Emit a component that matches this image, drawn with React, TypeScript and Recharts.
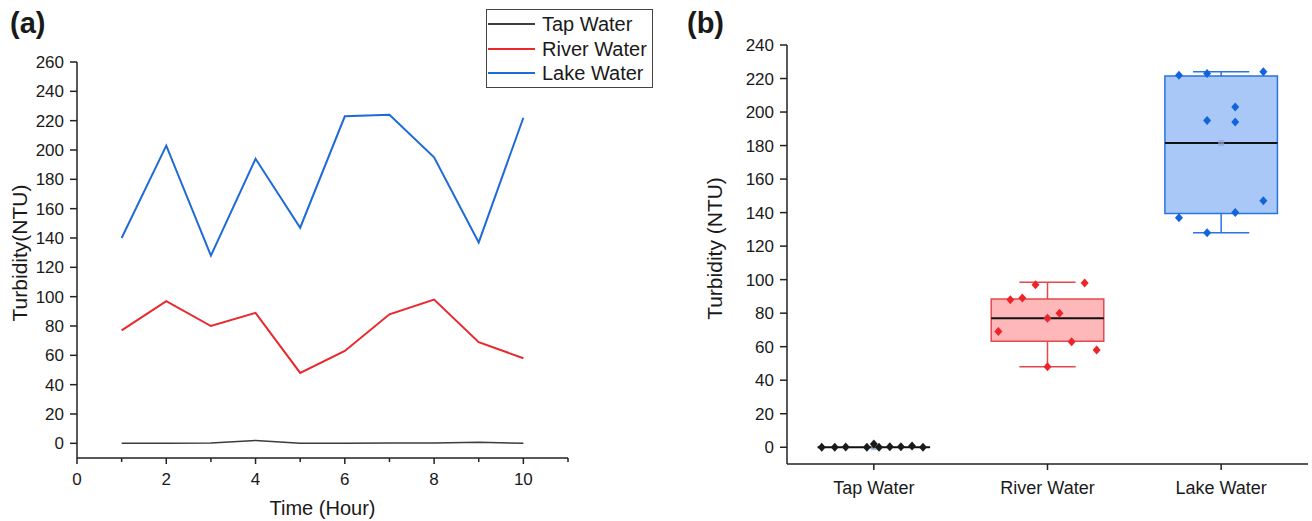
import React from "react";
import {
	Legend,
	Line,
	LineChart,
	ReferenceArea,
	ReferenceLine,
	Scatter,
	ScatterChart,
	XAxis,
	YAxis,
} from "recharts";

// (a) turbidity per hour
const hours = [1, 2, 3, 4, 5, 6, 7, 8, 9, 10];
const tapWater = [0, 0, 0.2, 2, 0, 0, 0.3, 0.3, 0.8, 0];
const riverWater = [77, 97, 80, 89, 48, 63, 88, 98, 69, 58];
const lakeWater = [140, 203, 128, 194, 147, 223, 224, 195, 137, 222];

const hourTicks = [0, 1, 2, 3, 4, 5, 6, 7, 8, 9, 10, 11];
const turbidityTicksA = [0, 20, 40, 60, 80, 100, 120, 140, 160, 180, 200, 220, 240, 260];

// (b) box plot
const categories = ["Tap Water", "River Water", "Lake Water"];
const boxLow = [0, 63.3, 139.5];
const boxHigh = [0, 88.4, 221.5];
const boxMean = [0, 77, 181.5];
const whiskerLow = [0, 48, 128];
const whiskerHigh = [0, 98.5, 224];
// horizontal jitter of the raw points, in category widths
const tapJitter = [-0.3, -0.225, -0.162, 0, -0.04, 0.03, 0.092, 0.156, 0.22, 0.283];
const riverJitter = [0, -0.069, 0.069, -0.145, 0, 0.139, -0.214, 0.214, -0.283, 0.283];
const lakeJitter = [0.081, 0.081, -0.081, 0.081, 0.243, -0.081, 0.243, -0.081, -0.243, -0.243];

const turbidityTicksB = [0, 10, 20, 30, 40, 50, 60, 70, 80, 90, 100, 110, 120, 130, 140, 150, 160, 170, 180, 190, 200, 210, 220, 230, 240];

const font = '"Liberation Sans", Arial, sans-serif';
const ink = "#1a1a1a";
const axisStroke = "#222";

const seriesA = [
	{ key: "tap", name: "Tap Water", color: "#3c3c3c" },
	{ key: "river", name: "River Water", color: "#e8282c" },
	{ key: "lake", name: "Lake Water", color: "#1f6bd6" },
];

const boxStyles = [
	{ fill: "#d0d0d0", stroke: "#1a1a1a", point: "#1a1a1a" },
	{ fill: "#ffb8ba", stroke: "#e5484b", point: "#ee2428" },
	{ fill: "#a9c8f8", stroke: "#2a74e0", point: "#1263dc" },
];

const rows = hours.map((h, i) => ({
	hour: h,
	tap: tapWater[i],
	river: riverWater[i],
	lake: lakeWater[i],
}));

const pointGroups = [tapWater, riverWater, lakeWater].map((values, g) => {
	const jitter = [tapJitter, riverJitter, lakeJitter][g];
	return values.map((v, i) => ({ x: g + 0.5 + jitter[i], y: v }));
});
const meanPoints = boxMean.map((m, g) => ({ x: g + 0.5, y: m }));

const BOX_HALF = 0.324;
const CAP_HALF = 0.162;

function HourTick(props: any) {
	const { x, y, payload } = props;
	const major = payload.value % 2 === 0;
	return (
		<g>
			<line x1={x} x2={x} y1={y} y2={y + (major ? 6 : 4)} stroke={axisStroke} strokeWidth={1.5} />
			{major && (
				<text x={x} y={y + 27} textAnchor="middle" fontSize={17} fontFamily={font} fill={ink}>
					{payload.value}
				</text>
			)}
		</g>
	);
}

function LeftTick(props: any) {
	const { x, y, payload } = props;
	const major = payload.value % 20 === 0;
	return (
		<g>
			<line x1={x - (major ? 7 : 4)} x2={x} y1={y} y2={y} stroke={axisStroke} strokeWidth={1.5} />
			{major && (
				<text x={x - 13} y={y + 6} textAnchor="end" fontSize={17} fontFamily={font} fill={ink}>
					{payload.value}
				</text>
			)}
		</g>
	);
}

function CategoryTick(props: any) {
	const { x, y, payload } = props;
	const idx = Math.round(payload.value - 0.5);
	return (
		<g>
			<line x1={x} x2={x} y1={y} y2={y + 6} stroke={axisStroke} strokeWidth={1.5} />
			<text x={x} y={y + 30} textAnchor="middle" fontSize={18} fontFamily={font} fill={ink}>
				{categories[idx]}
			</text>
		</g>
	);
}

function yTitle(text: string, dx: number, dy: number) {
	return (props: any) => {
		const vb = props.viewBox || { x: 0, y: 0, width: 0, height: 0 };
		const cx = vb.x + dx;
		const cy = vb.y + vb.height / 2 + dy;
		return (
			<text
				x={cx}
				y={cy}
				transform={`rotate(-90 ${cx} ${cy})`}
				textAnchor="middle"
				dominantBaseline="central"
				fontSize={21}
				fontFamily={font}
				fill={ink}
			>
				{text}
			</text>
		);
	};
}

function LegendBox() {
	return (
		<div
			style={{
				width: 167,
				height: 79,
				boxSizing: "border-box",
				border: "1.5px solid #444",
				background: "#fff",
				paddingTop: 2,
				fontFamily: font,
			}}
		>
			{seriesA.map((s) => (
				<div key={s.key} style={{ display: "flex", alignItems: "center", height: 24.5 }}>
					<span
						style={{
							display: "inline-block",
							width: 47,
							borderTop: `2px solid ${s.color}`,
							marginLeft: 1,
							marginRight: 7,
						}}
					/>
					<span style={{ fontSize: 20, color: ink, lineHeight: 1 }}>{s.name}</span>
				</div>
			))}
		</div>
	);
}

const diamond = (color: string) => (p: any) => (
	<path
		d={`M${p.cx},${p.cy - 4.5} L${p.cx + 4},${p.cy} L${p.cx},${p.cy + 4.5} L${p.cx - 4},${p.cy} Z`}
		fill={color}
	/>
);

const meanSquare = (p: any) => (
	<rect x={p.cx - 3} y={p.cy - 3} width={6} height={6} fill="#8fa8d0" fillOpacity={0.7} />
);

export default function App() {
	return (
		<div style={{ position: "absolute", left: 0, top: 0, width: 1312, height: 521, background: "#fff", fontFamily: font }}>
			<div style={{ position: "absolute", left: 0, top: 0 }}>
				<LineChart width={660} height={521} data={rows} margin={{ top: 62, right: 92, bottom: 0, left: 0 }}>
					<XAxis
						type="number"
						dataKey="hour"
						domain={[0, 11]}
						ticks={hourTicks}
						height={63}
						tickSize={0}
						tickMargin={0}
						tickLine={false}
						tick={<HourTick />}
						axisLine={{ stroke: axisStroke, strokeWidth: 1.5 }}
						label={{ value: "Time (Hour)", position: "insideBottom", offset: 6, fontSize: 20, fill: ink, fontFamily: font }}
					/>
					<YAxis
						type="number"
						domain={[-10, 260]}
						ticks={turbidityTicksA}
						width={77}
						tickSize={0}
						tickMargin={0}
						tickLine={false}
						tick={<LeftTick />}
						axisLine={{ stroke: axisStroke, strokeWidth: 1.5 }}
						label={yTitle("Turbidity(NTU)", 19, -7)}
					/>
					{seriesA.map((s) => (
						<Line
							key={s.key}
							type="linear"
							dataKey={s.key}
							name={s.name}
							stroke={s.color}
							strokeWidth={s.key === "tap" ? 1.5 : 2}
							dot={false}
							isAnimationActive={false}
						/>
					))}
					<Legend
						layout="vertical"
						align="center"
						verticalAlign="middle"
						content={() => <LegendBox />}
						wrapperStyle={{ left: 486, top: 9, width: 167, height: 79 }}
					/>
				</LineChart>
			</div>

			<div style={{ position: "absolute", left: 660, top: 0 }}>
				<ScatterChart width={652} height={521} margin={{ top: 45, right: 4, bottom: 0, left: 0 }}>
					<XAxis
						type="number"
						dataKey="x"
						domain={[0, 3]}
						ticks={[0.5, 1.5, 2.5]}
						height={57}
						tickSize={0}
						tickMargin={0}
						tickLine={false}
						tick={<CategoryTick />}
						axisLine={{ stroke: axisStroke, strokeWidth: 1.5 }}
						allowDataOverflow
					/>
					<YAxis
						type="number"
						dataKey="y"
						domain={[-10, 240]}
						ticks={turbidityTicksB}
						width={127}
						tickSize={0}
						tickMargin={0}
						tickLine={false}
						tick={<LeftTick />}
						axisLine={{ stroke: axisStroke, strokeWidth: 1.5 }}
						allowDataOverflow
						label={yTitle("Turbidity (NTU)", 54, -6)}
					/>
					{categories.map((c, g) =>
						boxHigh[g] > boxLow[g] ? (
							<ReferenceArea
								key={`box-${c}`}
								x1={g + 0.5 - BOX_HALF}
								x2={g + 0.5 + BOX_HALF}
								y1={boxLow[g]}
								y2={boxHigh[g]}
								fill={boxStyles[g].fill}
								fillOpacity={1}
								stroke={boxStyles[g].stroke}
								strokeWidth={1.5}
							/>
						) : null,
					)}
					{categories.map((c, g) =>
						whiskerHigh[g] > boxHigh[g]
							? [
									<ReferenceLine
										key={`wh-${c}`}
										segment={[{ x: g + 0.5, y: boxHigh[g] }, { x: g + 0.5, y: whiskerHigh[g] }]}
										stroke={boxStyles[g].stroke}
										strokeWidth={1.5}
									/>,
									<ReferenceLine
										key={`ch-${c}`}
										segment={[{ x: g + 0.5 - CAP_HALF, y: whiskerHigh[g] }, { x: g + 0.5 + CAP_HALF, y: whiskerHigh[g] }]}
										stroke={boxStyles[g].stroke}
										strokeWidth={1.5}
									/>,
									<ReferenceLine
										key={`wl-${c}`}
										segment={[{ x: g + 0.5, y: whiskerLow[g] }, { x: g + 0.5, y: boxLow[g] }]}
										stroke={boxStyles[g].stroke}
										strokeWidth={1.5}
									/>,
									<ReferenceLine
										key={`cl-${c}`}
										segment={[{ x: g + 0.5 - CAP_HALF, y: whiskerLow[g] }, { x: g + 0.5 + CAP_HALF, y: whiskerLow[g] }]}
										stroke={boxStyles[g].stroke}
										strokeWidth={1.5}
									/>,
								]
							: null,
					)}
					{categories.map((c, g) => (
						<ReferenceLine
							key={`mid-${c}`}
							segment={[{ x: g + 0.5 - BOX_HALF, y: boxMean[g] }, { x: g + 0.5 + BOX_HALF, y: boxMean[g] }]}
							stroke="#111"
							strokeWidth={2}
						/>
					))}
					<Scatter data={meanPoints} dataKey="y" shape={meanSquare} isAnimationActive={false} />
					{pointGroups.map((pts, g) => (
						<Scatter
							key={categories[g]}
							name={categories[g]}
							data={pts}
							dataKey="y"
							shape={diamond(boxStyles[g].point)}
							isAnimationActive={false}
						/>
					))}
				</ScatterChart>
			</div>

			<div style={{ position: "absolute", left: 10, top: 9, fontSize: 29, fontWeight: "bold", lineHeight: 1, color: ink }}>
				(a)
			</div>
			<div style={{ position: "absolute", left: 687, top: 9, fontSize: 29, fontWeight: "bold", lineHeight: 1, color: ink }}>
				(b)
			</div>
		</div>
	);
}
